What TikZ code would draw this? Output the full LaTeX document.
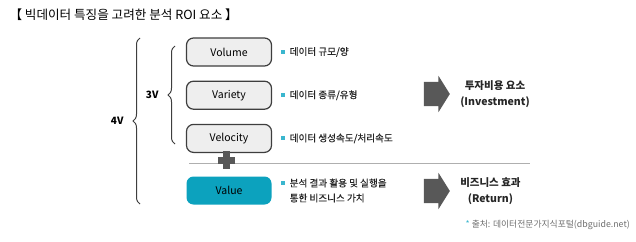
\documentclass[tikz,border=0pt]{standalone}
\usepackage{fontspec}
\setmainfont{Noto Sans CJK KR}
\newfontfamily\medfont[FakeBold=0.5]{Noto Sans CJK KR}
\usetikzlibrary{positioning, shapes.arrows, decorations.pathreplacing}
\usepackage{xcolor}
\definecolor{boxGray}{RGB}{238,238,238}
\definecolor{edgeDark}{RGB}{62,62,62}
\definecolor{valueTeal}{RGB}{12,162,190}
\definecolor{dotCyan}{RGB}{58,182,206}
\definecolor{blockGray}{RGB}{88,88,88}
\definecolor{lineGray}{RGB}{175,175,175}
\definecolor{noteGray}{RGB}{110,110,110}
\tikzset{
    % Boxes
    vbox/.style={rectangle, draw=edgeDark, line width=1.2pt, fill=boxGray, rounded corners=7pt,
                 minimum width=85pt, minimum height=28pt, font=\fontsize{10.5}{12}\selectfont},
    valbox/.style={draw=none, fill=valueTeal},
    % Text
    dot/.style={rectangle, fill=dotCyan, minimum size=4pt, inner sep=0pt},
    desc/.style={inner sep=0pt, font=\medfont\fontsize{9.6}{15}\selectfont, text=black!85},
    goal/.style={inner sep=0pt, align=center, font=\bfseries\fontsize{10.5}{16}\selectfont, text=black!85},
    vlabel/.style={font=\bfseries\fontsize{10}{12}\selectfont, inner sep=1pt},
    note/.style={font=\fontsize{8.8}{10}\selectfont, text=noteGray, inner sep=0pt},
    % Lines & shapes
    brace/.style={decorate, decoration={brace, amplitude=7pt}, line width=1pt, draw=edgeDark},
    sepline/.style={draw=lineGray, line width=0.8pt},
    bigarrow/.style={single arrow, fill=blockGray, draw=none, minimum height=26pt,
                     inner xsep=0pt, inner ysep=12pt, single arrow head extend=6pt,
                     single arrow tip angle=116}
}
\begin{document}
\begin{tikzpicture}[x=1pt, y=-1pt, node distance=14pt and 9pt]
\useasboundingbox (0,0) rectangle (636,241);

\node[anchor=west, font=\fontsize{12.6}{14}\selectfont] (title) at (6,15) {【 빅데이터 특징을 고려한 분석 ROI 요소 】};

% the four V boxes
\node[vbox] (volume) at (229,52) {Volume};
\node[vbox, below=of volume] (variety) {Variety};
\node[vbox, below=of variety] (velocity) {Velocity};
\node[vbox, valbox] (value) at (229,190.5) {Value};

\node[dot, right=of volume] (dotA) {};
\node[desc, right=4pt of dotA] (descA) {데이터 규모/양};
\node[dot, right=of variety] (dotB) {};
\node[desc, right=4pt of dotB] (descB) {데이터 종류/유형};
\node[dot, right=of velocity] (dotC) {};
\node[desc, right=4pt of dotC] (descC) {데이터 생성속도/처리속도};
\node[dot, right=of value, yshift=7.5pt] (dotD) {};
\node[desc, align=left, right=4pt of dotD, yshift=-7.5pt] (descD) {분석 결과 활용 및 실행을\\통한 비즈니스 가치};

% braces
\coordinate (threeTop) at (175,46);
\coordinate (threeBot) at (175,144);
\coordinate (fourTop) at (140,38);
\coordinate (fourBot) at (140,204);
\draw[brace] (threeBot) -- node[vlabel, left=15pt] (three) {3V} (threeTop);
\draw[brace] (fourBot) -- node[vlabel, left=15pt] (four) {4V} (fourTop);

% separator and plus
\coordinate (lineL) at (189,163);
\coordinate (lineR) at (530,163);
\draw[sepline] (lineL) -- (lineR);
\fill[blockGray] (218,156.5) rectangle (235,163.5);
\fill[blockGray] (223,151) rectangle (230,169);

% outcomes
\node[bigarrow] (arrInv) at (433,94) {};
\node[goal, right=10pt of arrInv] (inv) {투자비용 요소\\(Investment)};
\node[bigarrow] (arrRet) at (433,191) {};
\node[goal, right=10pt of arrRet] (ret) {비즈니스 효과\\(Return)};

\node[note, anchor=east] (source) at (630,225) {{\color{dotCyan}*} 출처: 데이터전문가지식포털(dbguide.net)};

\end{tikzpicture}
\end{document}
